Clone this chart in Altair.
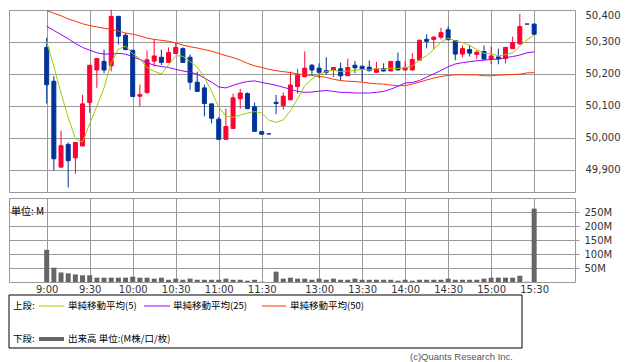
import altair as alt
import pandas as pd

# ---- data (5-minute bars, slot index on x) ----
slot = list(range(69))
open_ = [50283, 50177, 49908, 49979, 49937, 49974, 50110, 50212, 50239, 50225,
         50380, 50321, 50274, 50130, 50141, 50240, 50252, 50236, 50264, 50279,
         50252, 50174, 50156, 50106, 50058, 49995, 50029, 50122, 50138, 50097,
         50019, 50012, 50111, 50101, 50119, 50160, 50191, 50227, 50218, 50210,
         50212, 50216, 50194, 50227, 50224, 50221, 50205, 50216, 50209, 50239,
         50212, 50212, 50243, 50308, 50308, 50315, 50338, 50304, 50262, 50276,
         50261, 50270, 50246, 50253, 50248, 50279, 50294, 50356, 50356]
high = [50313, 50193, 50022, 49985, 49987, 50134, 50227, 50248, 50276, 50401,
        50382, 50328, 50274, 50166, 50274, 50309, 50276, 50283, 50297, 50283,
        50261, 50207, 50166, 50106, 50065, 50091, 50138, 50153, 50142, 50110,
        50019, 50012, 50134, 50142, 50207, 50216, 50270, 50231, 50233, 50252,
        50220, 50235, 50248, 50240, 50224, 50242, 50238, 50233, 50239, 50267,
        50240, 50265, 50308, 50324, 50318, 50344, 50348, 50304, 50289, 50291,
        50274, 50289, 50286, 50279, 50283, 50317, 50388, 50356, 50356]
low = [50107, 49897, 49906, 49844, 49887, 49974, 50078, 50156, 50202, 50208,
       50292, 50274, 50129, 50098, 50139, 50223, 50227, 50235, 50262, 50236,
       50150, 50145, 50067, 50045, 49995, 49995, 50029, 50091, 50091, 50020,
       50011, 50012, 50074, 50088, 50117, 50138, 50191, 50198, 50187, 50197,
       50190, 50179, 50194, 50202, 50176, 50207, 50203, 50207, 50209, 50212,
       50212, 50212, 50243, 50280, 50277, 50308, 50307, 50243, 50252, 50254,
       50246, 50246, 50230, 50230, 50233, 50279, 50291, 50356, 50324]
close = [50166, 49934, 49975, 49928, 49985, 50106, 50227, 50248, 50212, 50380,
         50318, 50276, 50129, 50135, 50244, 50256, 50236, 50267, 50283, 50236,
         50174, 50145, 50107, 50061, 49995, 50035, 50125, 50140, 50091, 50020,
         50011, 50012, 50107, 50130, 50165, 50196, 50218, 50212, 50205, 50205,
         50220, 50194, 50220, 50219, 50216, 50210, 50216, 50209, 50239, 50212,
         50220, 50245, 50305, 50302, 50315, 50329, 50307, 50262, 50279, 50265,
         50268, 50246, 50256, 50247, 50283, 50298, 50348, 50356, 50324]
volume_m = [115, 51, 34, 31, 27, 24, 24, 15.5, 15.5, 15.5,
            15.5, 15.5, 19, 15.5, 15.5, 12, 15.5, 8, 12, 8,
            12, 8, 8, 8, 8, 12, 8, 8, 4.6, 8,
            1, 0, 37, 12, 15.5, 12, 12, 8, 12, 8,
            12, 8, 8, 12, 8, 8, 8, 8, 8, 4.6,
            8, 4.6, 8, 8, 8, 8, 12, 8, 8, 8,
            8, 12, 15.5, 15.5, 15.5, 15.5, 22.6, 1, 262]
sma5 = [50300, 50223, 50140, 50063, 49998, 49986, 50044, 50099, 50156, 50235,
        50277, 50287, 50263, 50247, 50220, 50208, 50200, 50228, 50257, 50255,
        50239, 50221, 50189, 50145, 50096, 50068, 50064, 50071, 50077, 50082,
        50077, 50055, 50048, 50056, 50085, 50122, 50163, 50184, 50199, 50207,
        50212, 50207, 50209, 50211, 50214, 50212, 50216, 50214, 50218, 50217,
        50219, 50225, 50244, 50257, 50277, 50299, 50312, 50303, 50298, 50289,
        50276, 50264, 50263, 50256, 50260, 50266, 50286, 50306, 50322]
sma25 = [50349, 50336, 50323, 50310, 50295, 50283, 50274, 50266, 50262, 50262,
         50264, 50262, 50254, 50245, 50235, 50227, 50223, 50220, 50214, 50209,
         50205, 50199, 50187, 50174, 50159, 50156, 50164, 50171, 50176, 50178,
         50173, 50169, 50164, 50158, 50152, 50145, 50142, 50143, 50146, 50148,
         50145, 50142, 50142, 50140, 50140, 50140, 50142, 50145, 50152, 50161,
         50171, 50173, 50179, 50190, 50200, 50211, 50222, 50231, 50235, 50238,
         50241, 50243, 50245, 50246, 50251, 50254, 50259, 50266, 50269]
sma50 = [50398, 50390, 50382, 50372, 50365, 50357, 50351, 50347, 50343, 50339,
         50334, 50328, 50324, 50319, 50312, 50308, 50305, 50302, 50297, 50290,
         50285, 50281, 50276, 50271, 50264, 50257, 50251, 50243, 50233, 50225,
         50220, 50214, 50210, 50207, 50204, 50200, 50197, 50195, 50192, 50189,
         50183, 50179, 50177, 50176, 50174, 50171, 50169, 50168, 50165, 50163,
         50163, 50168, 50174, 50181, 50187, 50192, 50195, 50197, 50197, 50197,
         50197, 50194, 50194, 50196, 50197, 50198, 50199, 50203, 50204]

time_tick_slots = [0, 6, 12, 18, 24, 30, 38, 44, 50, 56, 62, 68]
time_tick_labels = ['9:00', '9:30', '10:00', '10:30', '11:00', '11:30',
                    '13:00', '13:30', '14:00', '14:30', '15:00', '15:30']
price_ticks = [49900, 50000, 50100, 50200, 50300, 50400]
volume_ticks = [50, 100, 150, 200, 250]

legend_head = ['上段:', '下段:']
legend_names = ['単純移動平均(5)', '単純移動平均(25)', '単純移動平均(50)', '出来高 単位:(M株/口/枚)']
unit_label = '単位: M'
credit = '(c)Quants Research Inc.'

df = pd.DataFrame({'slot': slot, 'open': open_, 'high': high, 'low': low,
                   'close': close, 'vol': volume_m,
                   'sma5': sma5, 'sma25': sma25, 'sma50': sma50})
df['dir'] = ['up' if c > o else 'down' for o, c in zip(open_, close)]

# ---- styling ----
W, H1, H2 = 566, 182, 84
GRID = '#999999'
NUM_FONT = 'DejaVu Sans'
JP_FONT = 'Noto Sans CJK JP'
UP, DOWN = '#ff0033', '#003399'

xs = alt.Scale(domain=[-4.56, 73.0], nice=False, zero=False)
ps = alt.Scale(domain=[49830, 50400], nice=False, zero=False)
vs = alt.Scale(domain=[0, 300], nice=False, zero=True)

label_expr = ("[" + ",".join("'%s'" % t for t in time_tick_labels) + "][indexof(["
              + ",".join(str(s) for s in time_tick_slots) + "], datum.value)]")

dir_scale = alt.Scale(domain=['up', 'down'], range=[UP, DOWN])

top_x_axis = alt.Axis(values=time_tick_slots, labels=False, ticks=False,
                      domain=False, grid=True, title=None)
price_axis = alt.Axis(orient='right', values=price_ticks, format=',d',
                      grid=True, ticks=False, domain=False, labelPadding=10,
                      labelFlush=True, labelOverlap=False,
                      labelFont=NUM_FONT, labelFontSize=10,
                      labelColor='#333333', title=None)


def px(field='slot'):
    return alt.X(field + ':Q', scale=xs, axis=top_x_axis)


def py(field):
    return alt.Y(field + ':Q', scale=ps, axis=price_axis)


base = alt.Chart(df)

wick = base.mark_rule(strokeWidth=1).encode(
    x=px(), y=py('low'), y2='high:Q',
    color=alt.Color('dir:N', scale=dir_scale, legend=None))
body = base.mark_bar(size=4, strokeWidth=1).encode(
    x=px(), y=py('open'), y2='close:Q',
    color=alt.Color('dir:N', scale=dir_scale, legend=None),
    stroke=alt.Stroke('dir:N', scale=dir_scale, legend=None))
l50 = base.mark_line(color='#ff3300', strokeWidth=1).encode(x=px(), y=py('sma50'))
l25 = base.mark_line(color='#9900ff', strokeWidth=1).encode(x=px(), y=py('sma25'))
l5 = base.mark_line(color='#99cc00', strokeWidth=1).encode(x=px(), y=py('sma5'))

upper = alt.layer(wick, body, l50, l25, l5).properties(width=W, height=H1)

vol = base.mark_bar(size=5, color='#666666').encode(
    x=alt.X('slot:Q', scale=xs, axis=alt.Axis(values=time_tick_slots, labelExpr=label_expr, ticks=False,
                                              domain=False, grid=True, labelPadding=2, title=None,
                                              labelOverlap=False,
                                              labelFont=NUM_FONT, labelFontSize=10, labelColor='#333333')),
    y=alt.Y('vol:Q', scale=vs, axis=alt.Axis(orient='right', values=volume_ticks,
                                             labelExpr="datum.value + 'M'", ticks=True, tickSize=4,
                                             tickColor=GRID, domain=False, grid=True, labelPadding=5,
                                             labelOverlap=False,
                                             title=None, labelFont=NUM_FONT, labelFontSize=10,
                                             labelColor='#333333')))


def text_layer(s, x, y, size=9.5, color='#000000', font=JP_FONT):
    return alt.Chart(pd.DataFrame({'t': [s]})).mark_text(
        align='left', baseline='middle', font=font, fontSize=size, color=color
    ).encode(x=alt.value(x), y=alt.value(y), text='t:N')


def seg_layer(x1, x2, y, color, w):
    return alt.Chart(pd.DataFrame({'a': [0]})).mark_rule(color=color, strokeWidth=w).encode(
        x=alt.value(x1), x2=alt.value(x2), y=alt.value(y))


box = alt.Chart(pd.DataFrame({'a': [0]})).mark_rect(
    fillOpacity=0, stroke='#000000', strokeWidth=1
).encode(x=alt.value(0), x2=alt.value(513), y=alt.value(97), y2=alt.value(150))

R1, R2 = 108, 141
lower = alt.layer(
    vol,
    text_layer(unit_label, 2, 14, size=10),
    box,
    text_layer(legend_head[0], 4, R1),
    seg_layer(30, 55, R1, '#99cc00', 1),
    text_layer(legend_names[0], 59, R1),
    seg_layer(135, 161, R1, '#9900ff', 1),
    text_layer(legend_names[1], 164, R1),
    seg_layer(253, 277, R1, '#ff3300', 1),
    text_layer(legend_names[2], 281, R1),
    text_layer(legend_head[1], 4, R2),
    seg_layer(30, 55, R2, '#666666', 4),
    text_layer(legend_names[3], 59, R2),
    text_layer(credit, 401, 159, size=9.5, color='#555555', font='Liberation Sans'),
).properties(width=W, height=H2)

chart = alt.vconcat(upper, lower, spacing=6, bounds='flush').properties(
    padding=0, background='white'
).configure_view(
    stroke=GRID, strokeWidth=1
).configure_axis(gridColor=GRID, gridWidth=1, gridOpacity=1, labelOverlap=False)

chart.save("out.html", embed_options={"renderer": "svg", "actions": False})
